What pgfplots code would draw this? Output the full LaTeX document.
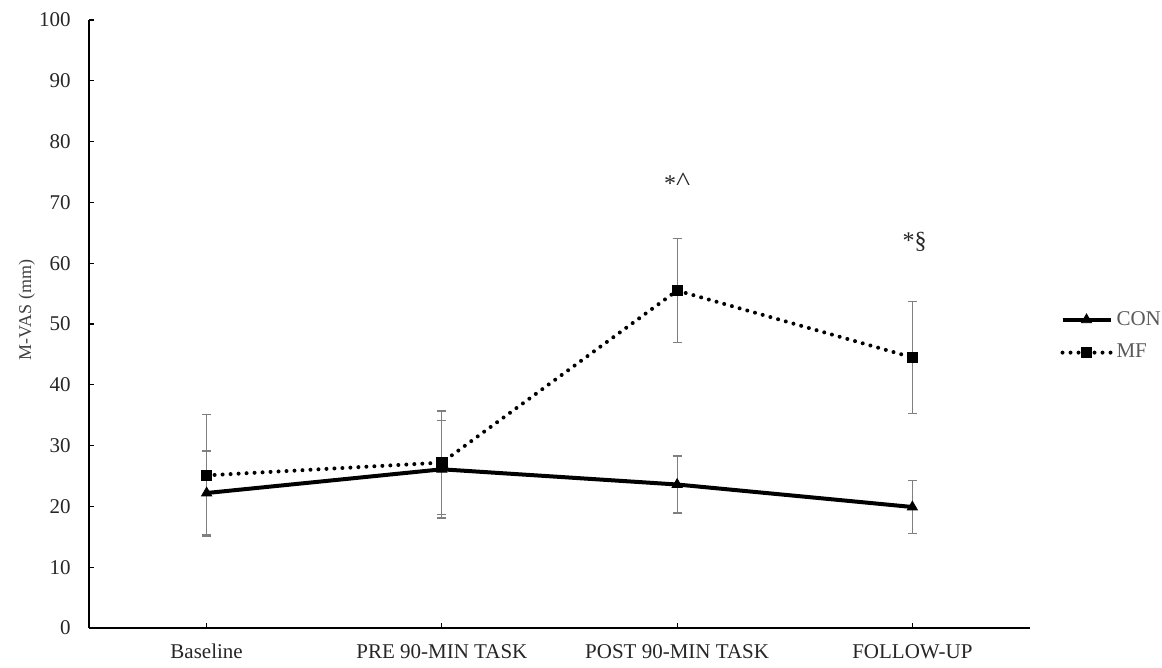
\documentclass[border=0pt]{standalone}
\usepackage{pgfplots}
\pgfplotsset{compat=1.18}
\usepackage{pgfplotstable}
\usepackage{fontspec}
\setmainfont{Liberation Serif}
\definecolor{txt}{HTML}{262626}
\definecolor{lbl}{HTML}{404040}
\definecolor{leg}{HTML}{595959}
\definecolor{ebar}{HTML}{7F7F7F}
\pgfplotstableread{
x y err
0 22.2 6.9
1 26.1 8.0
2 23.6 4.7
3 19.9 4.4
}\con
\pgfplotstableread{
x y err
0 25.1 10.0
1 27.2 8.5
2 55.5 8.5
3 44.5 9.2
}\mf
\begin{document}
\begin{tikzpicture}
\begin{axis}[
  scale only axis,
  width=470.5pt, height=304pt,
  xmin=-0.5, xmax=3.5,
  ymin=0, ymax=100,
  ytick={0,10,...,100},
  xtick={0,1,2,3},
  xticklabels={Baseline,PRE 90-MIN TASK,POST 90-MIN TASK,FOLLOW-UP},
  axis x line*=bottom,
  axis y line*=left,
  axis line style={black, line width=0.6pt, -},
  tick style={black, line width=0.6pt},
  tick align=inside,
  major tick length=2.5pt,
  tick label style={font=\fontsize{10.5}{12}\selectfont, text=txt},
  /pgf/number format/assume math mode=true,
  yticklabel style={anchor=east, inner sep=0pt, xshift=-9pt},
  xticklabel style={anchor=base, inner sep=0pt, yshift=-15.5pt},
  ylabel={M-VAS (mm)},
  every axis y label/.style={at={(axis description cs:-0.066,0.523)}, rotate=90, anchor=center,
    font=\fontsize{9}{10}\selectfont, text=lbl},
  legend style={draw=none, fill=none, at={(1.032,0.48)}, anchor=west,
    font=\fontsize{10.5}{12}\selectfont, text=leg, row sep=4pt,
    legend cell align=left, inner sep=0pt, nodes={inner xsep=2pt}},
  legend image code/.code={
    \draw[#1] (0pt,0pt) -- (24pt,0pt);
    \draw[#1, solid] plot coordinates {(12pt,0pt)};
  },
  clip=false,
]
\addplot[black, line width=2pt, mark=triangle*, mark size=2.9pt, mark options={solid, line width=0.4pt},
  error bars/.cd, y dir=both, y explicit,
  error bar style={ebar, line width=0.6pt, solid},
  error mark options={ebar, rotate=90, mark size=2.3pt, line width=0.6pt, solid}]
  table[x=x, y=y, y error=err] {\con};
\addlegendentry{CON}
\addplot[black, line width=2pt, dash pattern=on 0pt off 4pt, line cap=round,
  mark=square*, mark size=2.6pt, mark options={solid, line width=0.4pt},
  error bars/.cd, y dir=both, y explicit,
  error bar style={ebar, line width=0.6pt, solid},
  error mark options={ebar, rotate=90, mark size=2.3pt, line width=0.6pt, solid}]
  table[x=x, y=y, y error=err] {\mf};
\addlegendentry{MF}
\node[font=\fontsize{12}{14}\selectfont, text=txt] at (axis cs:2,73.3) {*\raisebox{0.15ex}{\scalebox{1.25}[1.1]{\textasciicircum}}};
\node[font=\fontsize{12}{14}\selectfont, text=txt] at (axis cs:3.01,63.5) {*§};
\end{axis}
\pgfresetboundingbox
\path (-44.5pt,-20pt) rectangle (536.5pt,314pt);
\end{tikzpicture}
\end{document}
